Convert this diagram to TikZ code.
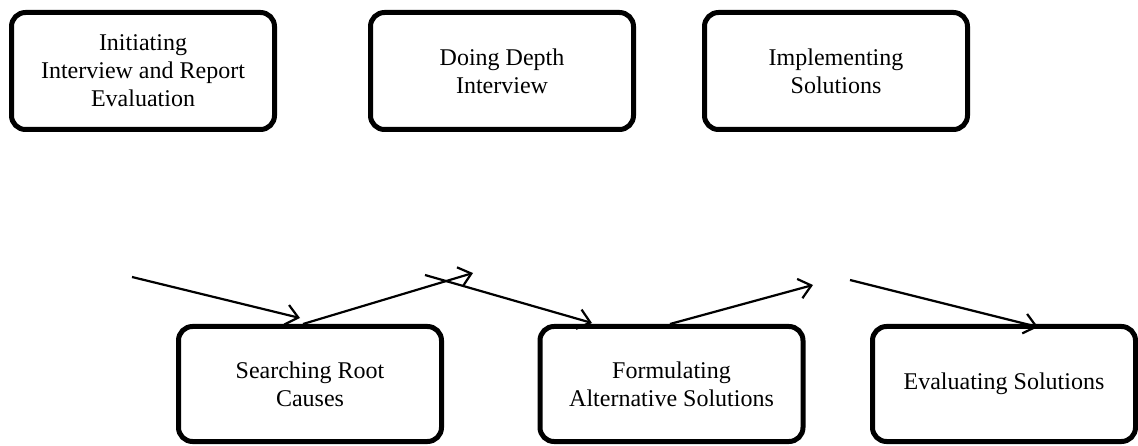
\documentclass[tikz,border=0pt]{standalone}
\usepackage{fontspec}
\setmainfont{Liberation Serif}
\usetikzlibrary{arrows.meta}
\begin{document}
\begin{tikzpicture}[x=1pt,y=-1pt,
  stagebox/.style={draw, line width=5pt, rounded corners=14pt, minimum width=263pt, minimum height=117pt, inner sep=0pt, align=center, font=\fontsize{24}{28}\selectfont},
  flow/.style={line width=2.2pt, -{Straight Barb[length=12pt,width=20pt,line width=2.2pt]}}]
\useasboundingbox (0,0) rectangle (1138,446);
\node[stagebox] (b1) at (143,71) {Initiating\\Interview and Report\\Evaluation};
\node[stagebox] (b2) at (502,71) {Doing Depth\\Interview};
\node[stagebox] (b3) at (836,71) {Implementing\\Solutions};
\node[stagebox, minimum height=115pt] (b4) at (310,384) {Searching Root\\Causes};
\node[stagebox, minimum height=115pt] (b5) at (671.5,384) {Formulating\\Alternative Solutions};
\node[stagebox, minimum height=115pt] (b6) at (1004,384) {Evaluating Solutions};
\coordinate (a1s) at (132,277);
\coordinate (a1e) at (300,318);
\coordinate (a2s) at (303,324);
\coordinate (a2e) at (473,273);
\coordinate (a3s) at (425,275);
\coordinate (a3e) at (592,323);
\coordinate (a4s) at (670,324);
\coordinate (a4e) at (813,285);
\coordinate (a5s) at (850,280);
\coordinate (a5e) at (1038,327);
\draw[flow] (a1s) -- (a1e);
\draw[flow] (a2s) -- (a2e);
\draw[flow] (a3s) -- (a3e);
\draw[flow] (a4s) -- (a4e);
\draw[flow] (a5s) -- (a5e);
\end{tikzpicture}
\end{document}
